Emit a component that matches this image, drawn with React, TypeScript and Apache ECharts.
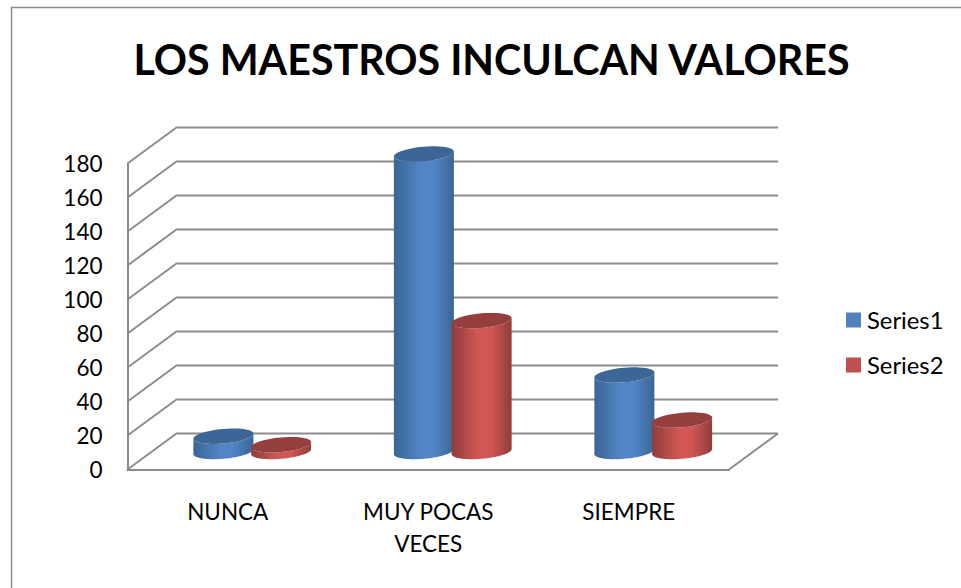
import React, { useEffect, useRef } from "react";
import * as echarts from "echarts";

const categories = ["NUNCA", "MUY POCAS\nVECES", "SIEMPRE"];
const series1Values = [9, 175, 45];
const series2Values = [4, 77, 18.5];
const yTicks = [0, 20, 40, 60, 80, 100, 120, 140, 160, 180];
const titleText = "LOS MAESTROS INCULCAN VALORES";

const FONT = "Lato";
const DEPTH_X = 49;
const DEPTH_Y = 36;
const RX = 30;
const RY = 7.3;
const SHEAR = 0.085;
const BLUE = { legend: "#4F81BD", edge: "#3b6595", mid: "#5186c6", top: "#3b6695" };
const RED = { legend: "#C0504D", edge: "#8f3d3b", mid: "#d05754", top: "#943f3d" };
const GRID_COLOR = "#8c8c8c";

function ellipsePts(cx: number, cy: number, from: number, to: number) {
  const pts: number[][] = [];
  const n = 48;
  for (let i = 0; i <= n; i++) {
    const t = from + ((to - from) * i) / n;
    pts.push([cx + RX * Math.cos(t), cy + RY * Math.sin(t) - SHEAR * RX * Math.cos(t)]);
  }
  return pts;
}

function cylinderItem(colors: typeof BLUE, side: number) {
  return (params: any, api: any) => {
    const cat = api.value(0);
    const top = api.coord([cat, api.value(1)]);
    const base = api.coord([cat, 0]);
    const band = api.size([1, 0])[0];
    const cx = top[0] + DEPTH_X / 2 + side * band * 0.144;
    const topY = top[1] - DEPTH_Y / 2;
    const baseY = base[1] - DEPTH_Y / 2;
    const body = [
      ...ellipsePts(cx, baseY, 0, Math.PI),
      ...ellipsePts(cx, topY, Math.PI, 0),
    ];
    return {
      type: "group",
      children: [
        {
          type: "polygon",
          shape: { points: body },
          style: {
            fill: new echarts.graphic.LinearGradient(0, 0, 1, 0, [
              { offset: 0, color: colors.edge },
              { offset: 0.45, color: colors.mid },
              { offset: 0.65, color: colors.mid },
              { offset: 1, color: colors.edge },
            ]),
          },
        },
        {
          type: "polygon",
          shape: { points: ellipsePts(cx, topY, 0, Math.PI * 2) },
          style: { fill: colors.top },
        },
      ],
    };
  };
}

function wallItem(params: any, api: any) {
  const v = api.value(0);
  const sys = params.coordSys;
  const y = api.coord([0, v])[1];
  const x0 = sys.x;
  const x1 = sys.x + sys.width;
  const style = { stroke: GRID_COLOR, lineWidth: 2, fill: "none" };
  const children: any[] = [
    {
      type: "polyline",
      shape: {
        points: [
          [x0, y],
          [x0 + DEPTH_X, y - DEPTH_Y],
          [x1 + DEPTH_X, y - DEPTH_Y],
        ],
      },
      style,
    },
  ];
  if (v === 0) {
    children.push({
      type: "line",
      shape: { x1, y1: y, x2: x1 + DEPTH_X, y2: y - DEPTH_Y },
      style,
    });
  }
  return { type: "group", children };
}

export default function App() {
  const ref = useRef<HTMLDivElement>(null);
  useEffect(() => {
    const chart = echarts.init(ref.current!, undefined, { renderer: "svg" });
    chart.setOption({
      animation: false,
      backgroundColor: "#fff",
      title: {
        text: titleText,
        left: 486.5,
        top: 33,
        textAlign: "center",
        textStyle: { fontFamily: FONT, fontWeight: "bold", fontSize: 41.2, color: "#000" },
      },
      legend: {
        data: ["Series1", "Series2"],
        orient: "vertical",
        left: 841,
        top: 303,
        itemWidth: 15,
        itemHeight: 15,
        itemGap: 21,
        icon: "rect",
        textStyle: { fontFamily: FONT, fontSize: 23.8, color: "#000", padding: [0, 0, 0, 1] },
      },
      grid: { left: 127.5, top: 163.5, width: 601.5, height: 306, containLabel: false },
      xAxis: {
        type: "category",
        data: categories,
        axisLine: { lineStyle: { color: GRID_COLOR, width: 2 } },
        axisTick: { show: false },
        axisLabel: {
          fontFamily: FONT,
          fontSize: 22.5,
          color: "#000",
          margin: 26,
          lineHeight: 32,
          interval: 0,
        },
      },
      yAxis: {
        type: "value",
        min: yTicks[0],
        max: yTicks[yTicks.length - 1],
        interval: 20,
        axisLine: { show: true, lineStyle: { color: GRID_COLOR, width: 2 } },
        axisTick: { show: false },
        splitLine: { show: false },
        axisLabel: { fontFamily: FONT, fontSize: 22.5, color: "#000", margin: 25, padding: [3, 0, 0, 0] },
      },
      graphic: [
        {
          type: "rect",
          shape: { x: 11.5, y: 7.5, width: 960, height: 600 },
          style: { fill: "none", stroke: "#8c8c8c", lineWidth: 1.5 },
          silent: true,
        },
      ],
      series: [
        {
          name: "wall",
          type: "custom",
          renderItem: wallItem,
          data: yTicks.map((v) => [v]),
          encode: { y: 0 },
          z: 1,
          clip: false,
          silent: true,
        },
        {
          name: "Series1",
          type: "custom",
          renderItem: cylinderItem(BLUE, -1),
          data: series1Values.map((v, i) => [i, v]),
          encode: { x: 0, y: 1 },
          itemStyle: { color: BLUE.legend },
          z: 3,
          clip: false,
        },
        {
          name: "Series2",
          type: "custom",
          renderItem: cylinderItem(RED, 1),
          data: series2Values.map((v, i) => [i, v]),
          encode: { x: 0, y: 1 },
          itemStyle: { color: RED.legend },
          z: 4,
          clip: false,
        },
      ],
    });
    return () => chart.dispose();
  }, []);
  return <div ref={ref} style={{ position: "fixed", left: 0, top: 0, width: 961, height: 588 }} />;
}
